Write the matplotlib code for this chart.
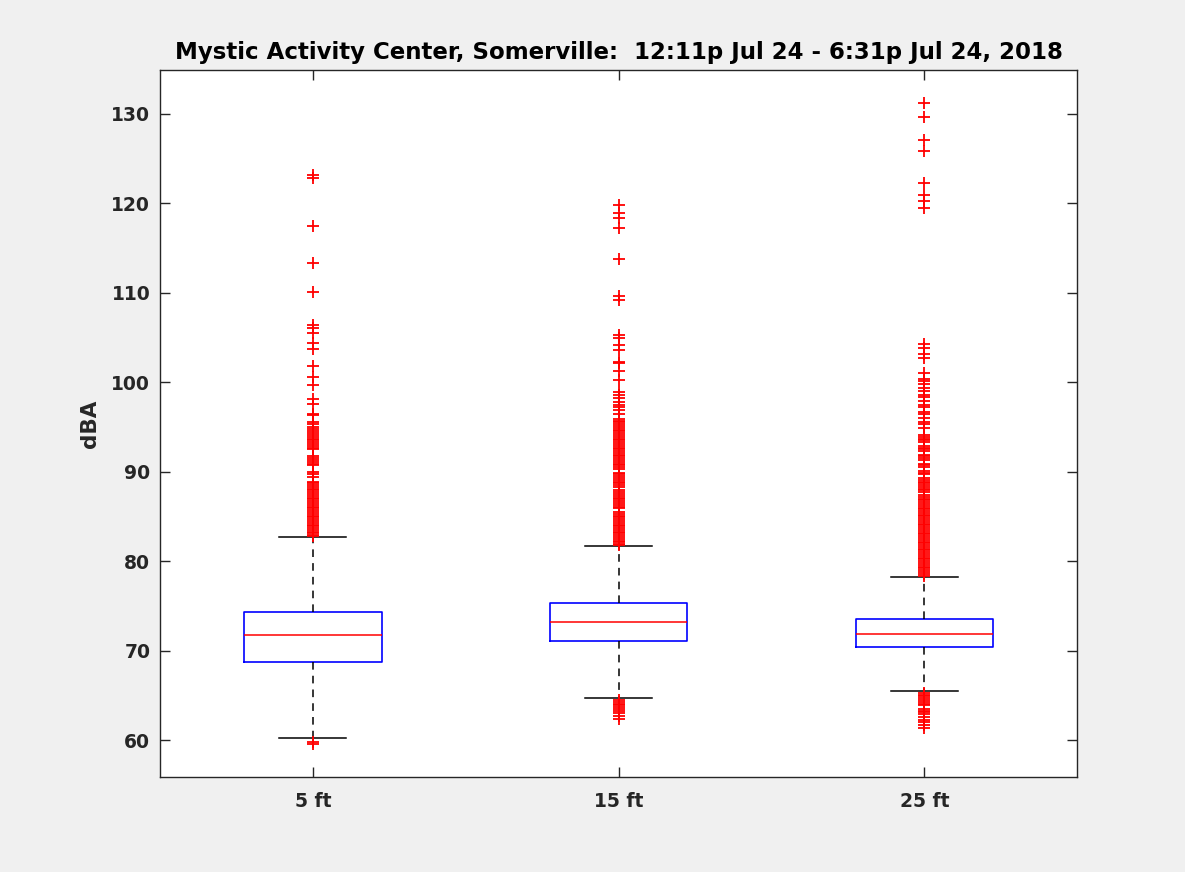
import numpy as np
import matplotlib.pyplot as plt

# box statistics (dBA)
labels = ['5 ft', '15 ft', '25 ft']
q1 = [68.7, 71.05, 70.4]
med = [71.8, 73.2, 71.9]
q3 = [74.3, 75.3, 73.5]
whislo = [60.3, 64.7, 65.5]
whishi = [82.7, 81.7, 78.2]

# outliers
fliers_5 = [123.1, 122.8, 117.4, 113.3, 110.1, 106.4, 106.0, 105.5, 104.4, 103.7,
            101.8, 100.6, 99.7, 98.1, 97.6, 96.5, 96.3, 95.6, 95.3, 95.0, 94.8,
            94.5, 94.3, 94.1, 93.9, 93.7, 93.5, 93.3, 93.1, 92.9, 92.7, 92.5,
            91.7, 91.5, 91.3, 91.1, 90.9, 90.7, 90.0, 89.7, 89.4,
            88.9, 88.7, 88.5, 88.3, 88.1, 87.9, 87.7, 87.5, 87.3, 87.1, 86.9, 86.7,
            86.5, 86.3, 86.1, 85.9, 85.7, 85.5, 85.3, 85.1, 84.9, 84.7, 84.5, 84.3,
            84.1, 83.9, 83.7, 83.5, 83.3, 83.1, 82.9, 82.8,
            59.8, 59.6]
fliers_15 = [119.8, 118.9, 118.3, 117.2, 113.8, 109.6, 109.2, 105.3, 104.9, 104.2,
             103.6, 102.3, 102.1, 101.2, 100.2, 98.9, 98.6, 98.2, 97.8, 97.5, 97.2,
             96.9, 96.5,
             95.9, 95.7, 95.5, 95.3, 95.1, 94.9, 94.7, 94.5, 94.3, 94.1, 93.9, 93.7,
             93.5, 93.3, 93.1, 92.9, 92.7, 92.5, 92.3, 92.1, 91.9, 91.7, 91.5, 91.3,
             91.1, 90.9, 90.7, 90.5, 90.3, 89.9, 89.7, 89.5, 89.3, 89.1, 88.9, 88.7,
             88.5, 88.3, 87.9, 87.7, 87.5, 87.3, 87.1, 86.9, 86.7, 86.5, 86.3, 86.1,
             85.9, 85.5, 85.3, 85.1, 84.9, 84.7, 84.5, 84.3, 84.1, 83.9, 83.7, 83.5,
             83.3, 83.1, 82.9, 82.7, 82.5, 82.3, 82.1, 81.9, 81.8,
             64.5, 64.3, 64.1, 63.9, 63.7, 63.5, 63.3, 63.0, 62.7, 62.4]
fliers_25 = [131.2, 129.6, 127.1, 125.8, 122.2, 120.9, 120.2, 119.5, 104.3, 103.8,
             103.2, 102.7, 101.0, 100.4, 100.1, 99.8, 99.4, 99.0, 98.6, 98.3, 97.9,
             97.5, 97.2, 96.7, 96.4, 96.0, 95.6, 95.3, 94.9,
             94.1, 93.9, 93.7, 93.5, 93.3, 92.9, 92.7, 92.5, 92.3, 91.9, 91.7, 91.5,
             91.3, 90.9, 90.7, 90.5, 90.1, 89.9, 89.7, 89.3, 89.1, 88.9, 88.7, 88.5,
             88.3, 88.1, 87.9, 87.7, 87.4, 87.2, 87.0, 86.8, 86.6, 86.4,
             86.2, 86.0, 85.8, 85.6, 85.4, 85.2, 85.0, 84.8, 84.6, 84.4, 84.2, 84.0,
             83.8, 83.6, 83.4, 83.2, 83.0, 82.8, 82.6, 82.4, 82.2, 82.0, 81.8, 81.6,
             81.4, 81.2, 81.0, 80.8, 80.6, 80.4, 80.2, 80.0, 79.8, 79.6, 79.4, 79.2,
             79.0, 78.8, 78.6, 78.4,
             65.3, 65.1, 64.9, 64.7, 64.5, 64.3, 64.1, 63.9, 63.5, 63.3, 63.1, 62.9,
             62.6, 62.3, 62.0, 61.7, 61.4]
fliers = [fliers_5, fliers_15, fliers_25]

stats = []
for i in range(3):
    stats.append(dict(q1=q1[i], med=med[i], q3=q3[i], whislo=whislo[i],
                      whishi=whishi[i], fliers=fliers[i], label=labels[i]))

plt.rcParams['font.family'] = ['DejaVu Sans']
fig = plt.figure(figsize=(11.85, 8.72), dpi=100, facecolor='#f0f0f0')
ax = fig.add_axes([0.135, 0.109, 0.774, 0.811])

ax.bxp(stats, positions=[1, 2, 3], widths=0.45, capwidths=0.22,
       boxprops=dict(color='blue', linewidth=1.2),
       medianprops=dict(color='red', linewidth=1.1),
       whiskerprops=dict(color='black', linestyle=(0, (5, 4)), linewidth=1.1),
       capprops=dict(color='black', linewidth=1.1),
       flierprops=dict(marker='+', markeredgecolor='red', markersize=8,
                       markeredgewidth=1.3, linestyle='none'))

ax.set_xlim(0.5, 3.5)
ax.set_ylim(55.9, 134.9)
ax.set_yticks([60, 70, 80, 90, 100, 110, 120, 130])
ax.set_xticks([1, 2, 3])
ax.set_xticklabels(labels)

ax.tick_params(direction='in', length=7, width=1, color='#262626',
               top=True, right=True, labelsize=13.5, labelcolor='#262626')
ax.tick_params(axis='y', pad=7)
ax.tick_params(axis='x', pad=11)
for lab in ax.get_xticklabels() + ax.get_yticklabels():
    lab.set_fontweight('bold')
for sp in ax.spines.values():
    sp.set_color('#262626')
    sp.set_linewidth(1)

ax.set_ylabel('dBA', fontsize=15.5, fontweight='bold', color='#262626', labelpad=8)
ax.set_title('Mystic Activity Center, Somerville:  12:11p Jul 24 - 6:31p Jul 24, 2018',
             fontsize=16.5, fontweight='bold', pad=8)

fig.savefig('out.png', dpi=100, facecolor=fig.get_facecolor())
